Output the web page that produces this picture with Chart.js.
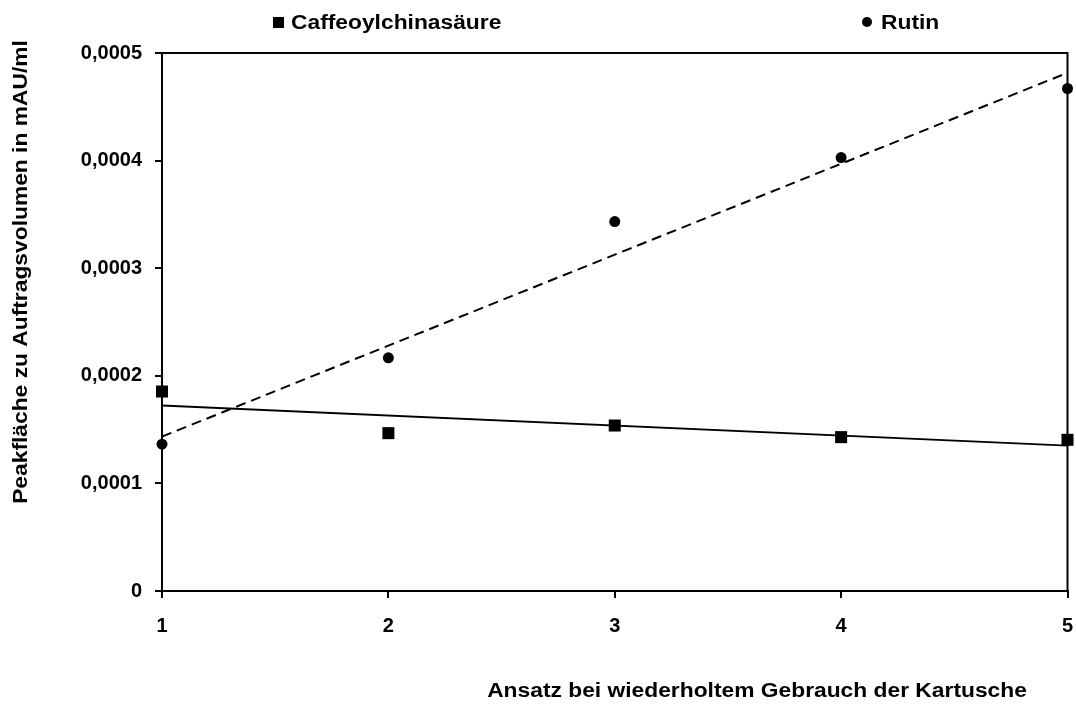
<!DOCTYPE html>
<html>
<head>
<meta charset="utf-8">
<script src="https://cdn.jsdelivr.net/npm/chart.js@4/dist/chart.umd.min.js"></script>
<style>
  html, body { margin: 0; padding: 0; background: #fff; }
  #wrap { width: 1076px; height: 704px; }
</style>
</head>
<body>
<div id="wrap"><canvas id="chart"></canvas></div>
<script>
// data
const ansatz = [1, 2, 3, 4, 5];
const caffeoyl = [0.0001854, 0.0001467, 0.0001538, 0.0001430, 0.0001405];
const rutin = [0.0001365, 0.0002167, 0.0003433, 0.0004028, 0.0004670];
const trendX = [1, 5];
const caffeoylTrend = [0.0001724, 0.0001352];
const rutinTrend = [0.0001435, 0.0004816];
const yTicks = [0, 0.0001, 0.0002, 0.0003, 0.0004, 0.0005];

const FONT = '"Liberation Sans", Arial, sans-serif';

function pts(xs, ys) {
    return xs.map((x, i) => ({ x: x, y: ys[i] }));
}

// text in the original is a bit wider than Liberation Sans
function wideText(ctx, text, x, y, align) {
    const sx = 1.14;
    ctx.save();
    ctx.translate(x, y);
    ctx.scale(sx, 1);
    ctx.textAlign = align;
    ctx.fillText(text, 0, 0);
    ctx.restore();
}

const extras = {
    id: 'extras',
    afterDraw(chart) {
        const ctx = chart.ctx;
        const a = chart.chartArea;
        ctx.save();
        // frame top + right
        ctx.strokeStyle = '#000';
        ctx.lineWidth = 2;
        ctx.beginPath();
        ctx.moveTo(a.left, a.top);
        ctx.lineTo(a.right, a.top);
        ctx.lineTo(a.right, a.bottom);
        ctx.stroke();

        ctx.fillStyle = '#000';
        // legend
        ctx.fillRect(273, 17, 11, 11);
        ctx.beginPath();
        ctx.arc(867, 22, 5, 0, Math.PI * 2);
        ctx.fill();
        ctx.font = 'bold 20px ' + FONT;
        ctx.textBaseline = 'middle';
        wideText(ctx, 'Caffeoylchinasäure', 291, 23, 'left');
        wideText(ctx, 'Rutin', 881, 23, 'left');

        // axis titles
        wideText(ctx, 'Ansatz bei wiederholtem Gebrauch der Kartusche', 757, 691, 'center');
        ctx.translate(21, 272);
        ctx.rotate(-Math.PI / 2);
        wideText(ctx, 'Peakfläche zu Auftragsvolumen in mAU/ml', 0, 0, 'center');
        ctx.restore();
    }
};

new Chart(document.getElementById('chart'), {
    type: 'scatter',
    data: {
        datasets: [
            {
                label: 'Caffeoylchinasäure',
                data: pts(ansatz, caffeoyl),
                pointStyle: 'rect',
                pointRadius: 8.5,
                backgroundColor: '#000',
                borderColor: '#000',
                borderWidth: 0,
                clip: false,
                order: 0
            },
            {
                label: 'Rutin',
                data: pts(ansatz, rutin),
                pointStyle: 'circle',
                pointRadius: 5.5,
                backgroundColor: '#000',
                borderColor: '#000',
                borderWidth: 0,
                clip: false,
                order: 0
            },
            {
                label: 'Trend Caffeoylchinasäure',
                data: pts(trendX, caffeoylTrend),
                showLine: true,
                borderColor: '#000',
                borderWidth: 1.8,
                pointRadius: 0,
                order: 1
            },
            {
                label: 'Trend Rutin',
                data: pts(trendX, rutinTrend),
                showLine: true,
                borderColor: '#000',
                borderWidth: 2,
                borderDash: [10, 6],
                pointRadius: 0,
                order: 1
            }
        ]
    },
    options: {
        responsive: true,
        maintainAspectRatio: false,
        animation: false,
        layout: { padding: { left: 0, top: 53, right: 4, bottom: 0 } },
        plugins: {
            legend: { display: false },
            tooltip: { enabled: false }
        },
        scales: {
            x: {
                type: 'linear',
                min: 1,
                max: 5,
                afterBuildTicks: s => { s.ticks = ansatz.map(v => ({ value: v })); },
                afterFit: s => { s.height = 113; s.paddingLeft = 0; s.paddingRight = 0; },
                grid: { drawOnChartArea: false, color: '#000', tickLength: 7, lineWidth: 2 },
                border: { color: '#000', width: 2 },
                ticks: {
                    color: '#000',
                    padding: 16,
                    font: { family: FONT, size: 20, weight: 'bold' }
                }
            },
            y: {
                min: 0,
                max: 0.0005,
                afterBuildTicks: s => { s.ticks = yTicks.map(v => ({ value: v })); },
                afterFit: s => { s.width = 162; s.paddingTop = 0; s.paddingBottom = 0; },
                grid: { drawOnChartArea: false, color: '#000', tickLength: 7, lineWidth: 2 },
                border: { color: '#000', width: 2 },
                ticks: {
                    color: '#000',
                    padding: 13,
                    font: { family: FONT, size: 20, weight: 'bold' },
                    callback: v => v === 0 ? '0' : v.toFixed(4).replace('.', ',')
                }
            }
        }
    },
    plugins: [extras]
});
</script>
</body>
</html>
